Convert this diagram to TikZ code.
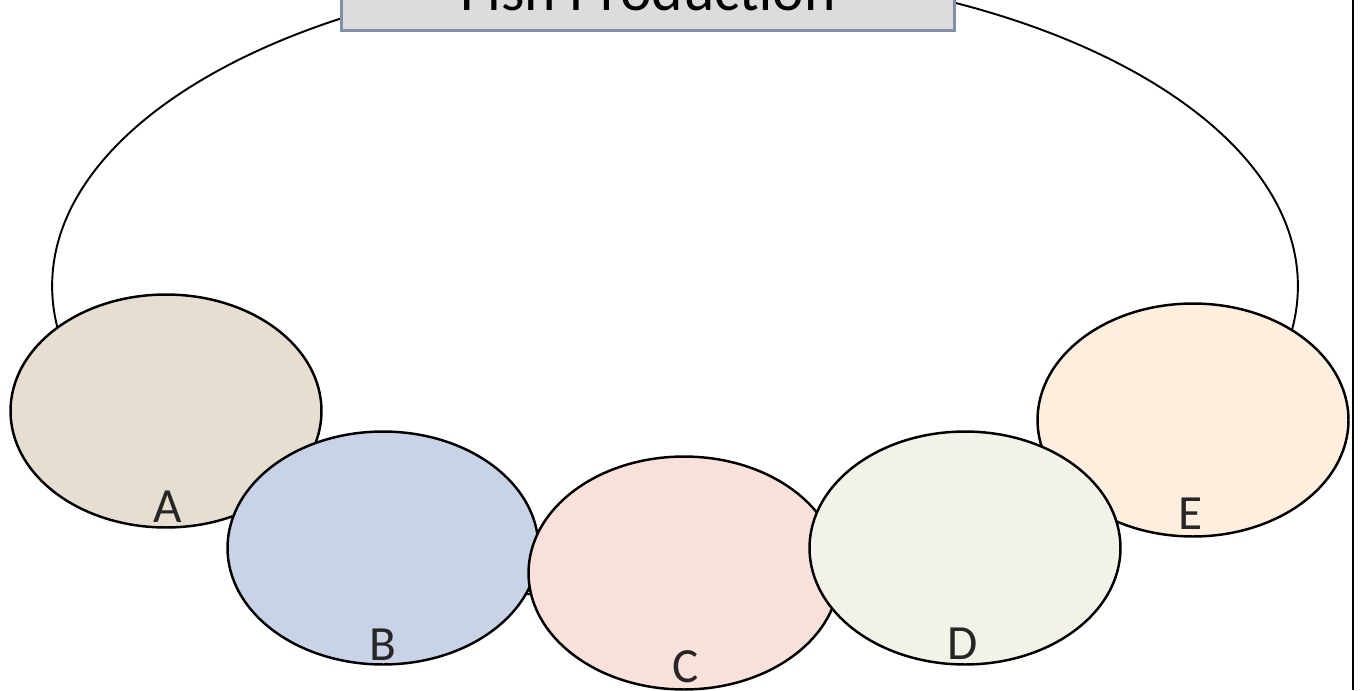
\documentclass[tikz,border=0pt]{standalone}
\usepackage{fontspec}
\setmainfont{Carlito}
\usepackage{xcolor}
\usetikzlibrary{shapes.geometric}
\usetikzlibrary{positioning}

\definecolor{fillA}{RGB}{230,223,209}
\definecolor{fillB}{RGB}{201,211,232}
\definecolor{fillC}{RGB}{248,225,218}
\definecolor{fillD}{RGB}{242,242,232}
\definecolor{fillE}{RGB}{253,238,221}
\definecolor{boxfill}{RGB}{220,220,220}
\definecolor{boxedge}{RGB}{127,143,170}

\begin{document}
\begin{tikzpicture}[x=0.02cm,y=-0.02cm]
	%\draw[help lines] (0,0) grid (1365,690);
	
	\tikzstyle{pnode} = [ellipse,draw,line width=1.4pt,inner sep=0pt,minimum width=6.22cm,minimum height=4.66cm]
	\tikzstyle{plabel} = [anchor=base,inner sep=0pt,text=black!85,font=\fontsize{28}{32}\selectfont]
	\tikzstyle{tbox} = [draw=boxedge,line width=1.5pt,fill=boxfill,inner sep=0pt,minimum width=12.26cm,minimum height=1.64cm,font=\fontsize{34}{40}\selectfont]
	
	\useasboundingbox (0,0) rectangle (1365,690);
	\clip (0,0) rectangle (1365,690);
	
	\node[ellipse,draw,line width=1.1pt,inner sep=0pt,minimum width=24.92cm,minimum height=12.68cm] (ring) at (675,286) {};
	
	\node[pnode,fill=fillA] (A) at (166,411) {};
	\node[pnode,fill=fillE] (E) at (1193,420) {};
	\node[pnode,fill=fillB] (B) at (383,548) {};
	\node[pnode,fill=fillC] (C) at (684,573) {};
	\node[pnode,fill=fillD] (D) at (965,548) {};
	
	\node[plabel] (la) at (168,522) {A};
	\node[plabel] (lb) at (383,660) {B};
	\node[plabel] (lc) at (686,682) {C};
	\node[plabel] (ld) at (963,659) {D};
	\node[plabel] (le) at (1190,529) {E};
	
	\node[tbox,anchor=south] (title) at (648,32) {Fish Production};
	
	\coordinate (edgetop) at (1353,0);
	\coordinate (edgebot) at (1353,690);
	\draw[line width=1.2pt] (edgetop) -- (edgebot);

\end{tikzpicture}
\end{document}
